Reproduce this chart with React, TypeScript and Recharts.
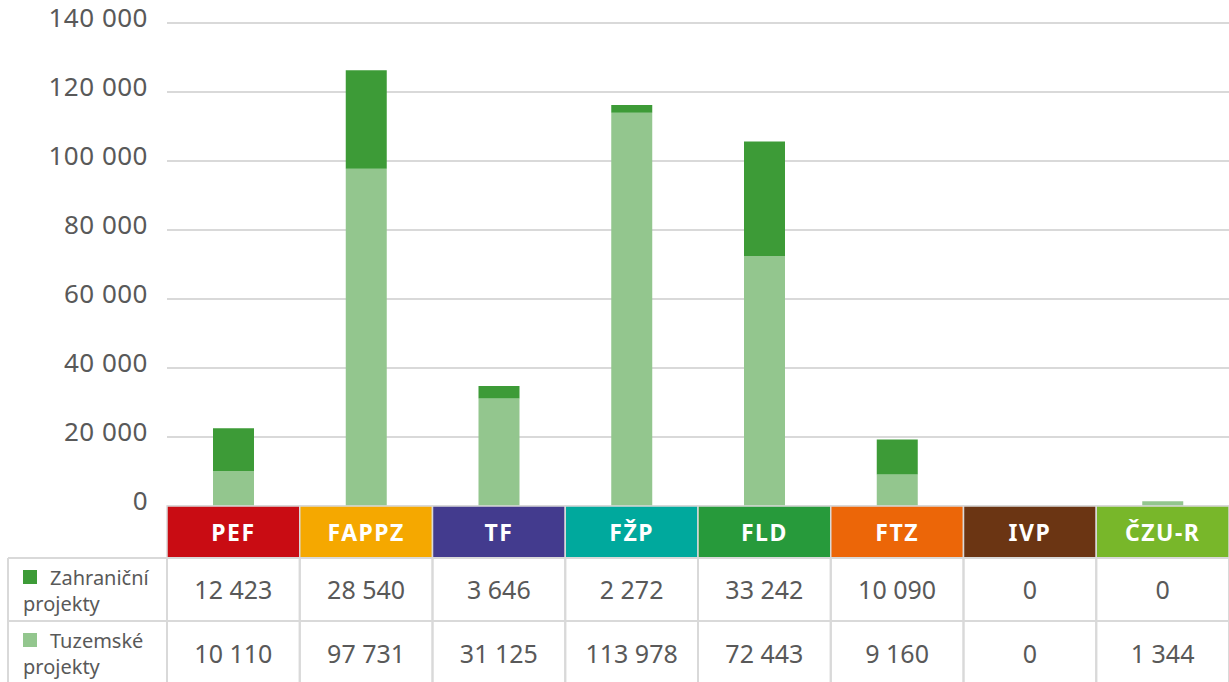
import { BarChart, Bar, XAxis, YAxis, CartesianGrid } from "recharts";

const faculties = ["PEF", "FAPPZ", "TF", "FŽP", "FLD", "FTZ", "IVP", "ČZU-R"];
const facultyColors = ["#c90c13", "#f5a800", "#433b8e", "#00a99d", "#279a3b", "#ec6608", "#6b3513", "#78b72a"];
const zahranicni = [12423, 28540, 3646, 2272, 33242, 10090, 0, 0];
const tuzemske = [10110, 97731, 31125, 113978, 72443, 9160, 0, 1344];
const yTicks = [0, 20000, 40000, 60000, 80000, 100000, 120000, 140000];

const data = faculties.map((name, i) => ({
  name,
  zahranicni: zahranicni[i],
  tuzemske: tuzemske[i],
}));

const W = 1229;
const H = 682;
const LEFT = 167;
const TOP = 23;
const BOTTOM = 506;
const COL = (W - LEFT) / faculties.length;
const HEAD_H = 52;
const ROW1 = BOTTOM + HEAD_H;
const ROW2 = 621;
const FONT = "'Noto Sans', 'Open Sans', sans-serif";
const GRID = "#d9d9d9";
const TEXT = "#595959";
const DARK = "#3d9b37";
const LIGHT = "#93c68e";

const fmt = (v: number) => v.toLocaleString("en-US").replace(/,/g, " ");

function TableTick(props: any) {
  const { x, index, payload } = props;
  const left = x - COL / 2;
  const i = index;
  return (
    <g>
      {i === 0 && (
        <g>
          <line x1={8} x2={LEFT} y1={ROW1} y2={ROW1} stroke={GRID} strokeWidth={2} />
          <line x1={8} x2={LEFT} y1={ROW2} y2={ROW2} stroke={GRID} strokeWidth={2} />
          <line x1={8} x2={8} y1={ROW1} y2={H} stroke={GRID} strokeWidth={2} />
          <rect x={23} y={570} width={14} height={14} fill={DARK} />
          <text x={50} y={585} fontSize={20} fill={TEXT} fontFamily={FONT}>Zahraniční</text>
          <text x={23} y={611} fontSize={20} fill={TEXT} fontFamily={FONT}>projekty</text>
          <rect x={23} y={633} width={14} height={14} fill={LIGHT} />
          <text x={50} y={648} fontSize={20} fill={TEXT} fontFamily={FONT}>Tuzemské</text>
          <text x={23} y={674} fontSize={20} fill={TEXT} fontFamily={FONT}>projekty</text>
        </g>
      )}
      <rect x={left} y={BOTTOM} width={COL} height={HEAD_H} fill={facultyColors[i]} stroke={GRID} strokeWidth={1.5} />
      <text x={x} y={BOTTOM + 35} textAnchor="middle" fontSize={23} fontWeight={700} fill="#fff" fontFamily={FONT} letterSpacing={1.5}>
        {payload.value}
      </text>
      <rect x={left} y={ROW1} width={COL} height={ROW2 - ROW1} fill="none" stroke={GRID} strokeWidth={2} />
      <rect x={left} y={ROW2} width={COL} height={H - ROW2 + 2} fill="none" stroke={GRID} strokeWidth={2} />
      <text x={x} y={599} textAnchor="middle" fontSize={25} fill={TEXT} fontFamily={FONT}>
        {fmt(zahranicni[i])}
      </text>
      <text x={x} y={663} textAnchor="middle" fontSize={25} fill={TEXT} fontFamily={FONT}>
        {fmt(tuzemske[i])}
      </text>
    </g>
  );
}

function YTick(props: any) {
  const { y, payload } = props;
  return (
    <text x={148} y={y + 4} textAnchor="end" fontSize={26} fill={TEXT} fontFamily={FONT} letterSpacing={0.5}>
      {fmt(payload.value)}
    </text>
  );
}

export default function App() {
  return (
    <div style={{ position: "absolute", left: 0, top: 0, width: W, height: H, background: "#fff" }}>
      <BarChart width={W} height={H} data={data} margin={{ top: TOP, right: 0, left: 0, bottom: 0 }} barCategoryGap={0}>
        <CartesianGrid vertical={false} stroke={GRID} strokeWidth={2} />
        <XAxis
          dataKey="name"
          height={H - BOTTOM}
          axisLine={false}
          tickLine={false}
          interval={0}
          tick={<TableTick />}
        />
        <YAxis
          width={LEFT}
          domain={[0, 140000]}
          ticks={yTicks}
          axisLine={false}
          tickLine={false}
          tick={<YTick />}
        />
        <Bar dataKey="tuzemske" stackId="a" fill={LIGHT} barSize={41} isAnimationActive={false} />
        <Bar dataKey="zahranicni" stackId="a" fill={DARK} barSize={41} isAnimationActive={false} />
      </BarChart>
    </div>
  );
}
